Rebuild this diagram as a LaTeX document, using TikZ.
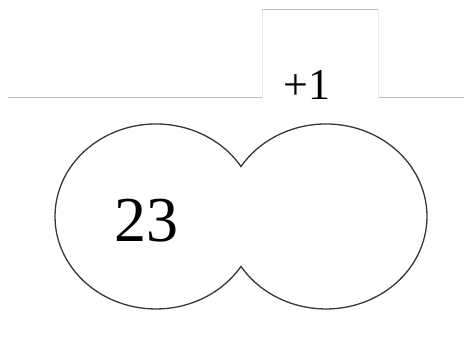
\documentclass[tikz,border=0pt]{standalone}
\usepackage{fontspec}
\setmainfont{Liberation Serif}
\usepackage{xcolor}
\usepackage{tikz}
\usetikzlibrary{positioning}
\definecolor{rulegray}{RGB}{190,190,190}
\definecolor{boxgray}{RGB}{235,235,235}
\definecolor{blobgray}{RGB}{55,55,55}

\begin{document}
\begin{tikzpicture}[x=1pt,y=1pt]
\useasboundingbox (0,0) rectangle (464,338);
\draw[rulegray,line width=1pt] (8,240) -- (262,240);
\draw[rulegray,line width=1pt] (378,240) -- (464,240);
\draw[boxgray,line width=1pt] (262,240) -- (262,328);
\draw[boxgray,line width=1pt] (378,240) -- (378,328);
\draw[rulegray,line width=1pt] (262,328) -- (378,328);
\node[anchor=base,inner sep=0pt,font=\rmfamily\fontsize{44}{44}\selectfont] (plusone) at (307,238) {+1};
% two ellipses joined at the cusps
\draw[blobgray,line width=1.3pt] (241,171.5)
  arc[start angle=32.7,end angle=327.3,x radius=101,y radius=92.5]
  arc[start angle=212.7,end angle=507.3,x radius=101,y radius=92.5] -- cycle;
\node[anchor=base,inner sep=0pt,font=\rmfamily\fontsize{64}{64}\selectfont] (count) at (146.5,96) {23};
\end{tikzpicture}
\end{document}
